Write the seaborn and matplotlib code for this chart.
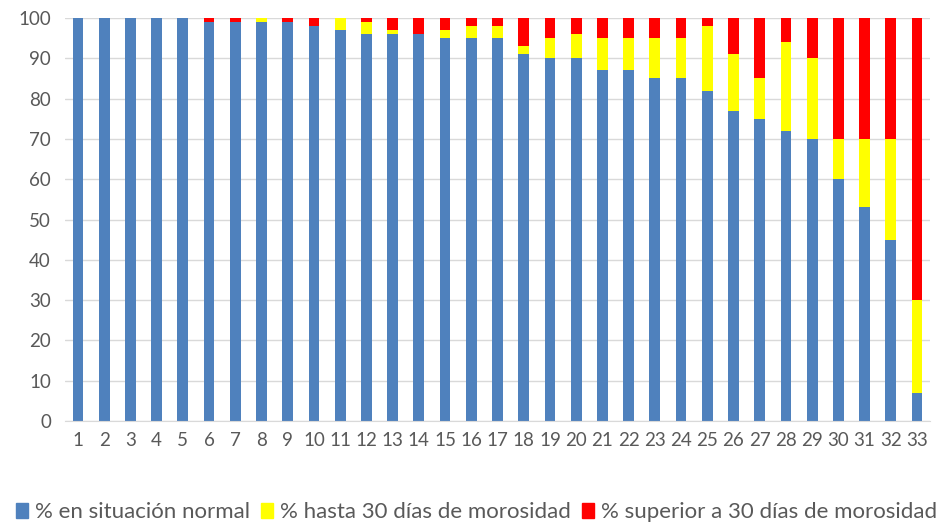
import matplotlib
matplotlib.use('Agg')
import matplotlib.pyplot as plt
from matplotlib.patches import Patch
import numpy as np
import pandas as pd
import seaborn as sns

categories = [str(i) for i in range(1, 34)]
normal = [100, 100, 100, 100, 100, 99, 99, 99, 99, 98, 97, 96, 96, 96, 95, 95, 95,
          91, 90, 90, 87, 87, 85, 85, 82, 77, 75, 72, 70, 60, 53, 45, 7]
hasta_30 = [0, 0, 0, 0, 0, 0, 0, 1, 0, 0, 3, 3, 1, 0, 2, 3, 3,
            2, 5, 6, 8, 8, 10, 10, 16, 14, 10, 22, 20, 10, 17, 25, 23]
superior_30 = [0, 0, 0, 0, 0, 1, 1, 0, 1, 2, 0, 1, 3, 4, 3, 2, 2,
               7, 5, 4, 5, 5, 5, 5, 2, 9, 15, 6, 10, 30, 30, 30, 70]
series_names = ['% en situación normal', '% hasta 30 días de morosidad',
                '% superior a 30 días de morosidad']
colors = ['#4F81BD', '#FFFF00', '#FF0000']

df = pd.DataFrame({'grupo': categories, 'normal': normal,
                   'hasta': hasta_30, 'superior': superior_30})
df['top_yellow'] = df['normal'] + df['hasta']
df['top_red'] = df['top_yellow'] + df['superior']

sns.set_style('white')
plt.rcParams['font.family'] = ['Lato', 'DejaVu Sans']

fig = plt.figure(figsize=(9.53, 5.24), dpi=100)
ax = fig.add_axes([0.068, 0.1966, 0.908, 0.769])

# stacked by layering cumulative totals, tallest first
for col, color in zip(['top_red', 'top_yellow', 'normal'], colors[::-1]):
    sns.barplot(data=df, x='grupo', y=col, color=color, width=0.41,
                saturation=1, edgecolor='none', ax=ax, order=categories)

ax.set_xlim(-0.5, 32.5)
ax.set_ylim(0, 100)
ax.set_yticks(np.arange(0, 101, 10))
ax.set_xlabel('')
ax.set_ylabel('')
ax.yaxis.grid(True, color='#D9D9D9', linewidth=1)
ax.set_axisbelow(True)
for side in ['top', 'right', 'left']:
    ax.spines[side].set_visible(False)
ax.spines['bottom'].set_color('#D9D9D9')
ax.tick_params(axis='both', length=0, labelsize=13.5, labelcolor='#595959')
ax.tick_params(axis='x', pad=8)
ax.tick_params(axis='y', pad=10)

handles = [Patch(color=c, label=n) for c, n in zip(colors, series_names)]
fig.legend(handles=handles, loc='lower center', bbox_to_anchor=(0.5, -0.035), ncol=3,
           frameon=False, fontsize=16, handlelength=0.55, handleheight=0.7,
           handletextpad=0.3, columnspacing=0.5, labelcolor='#595959')

fig.savefig('out.png', dpi=100)
